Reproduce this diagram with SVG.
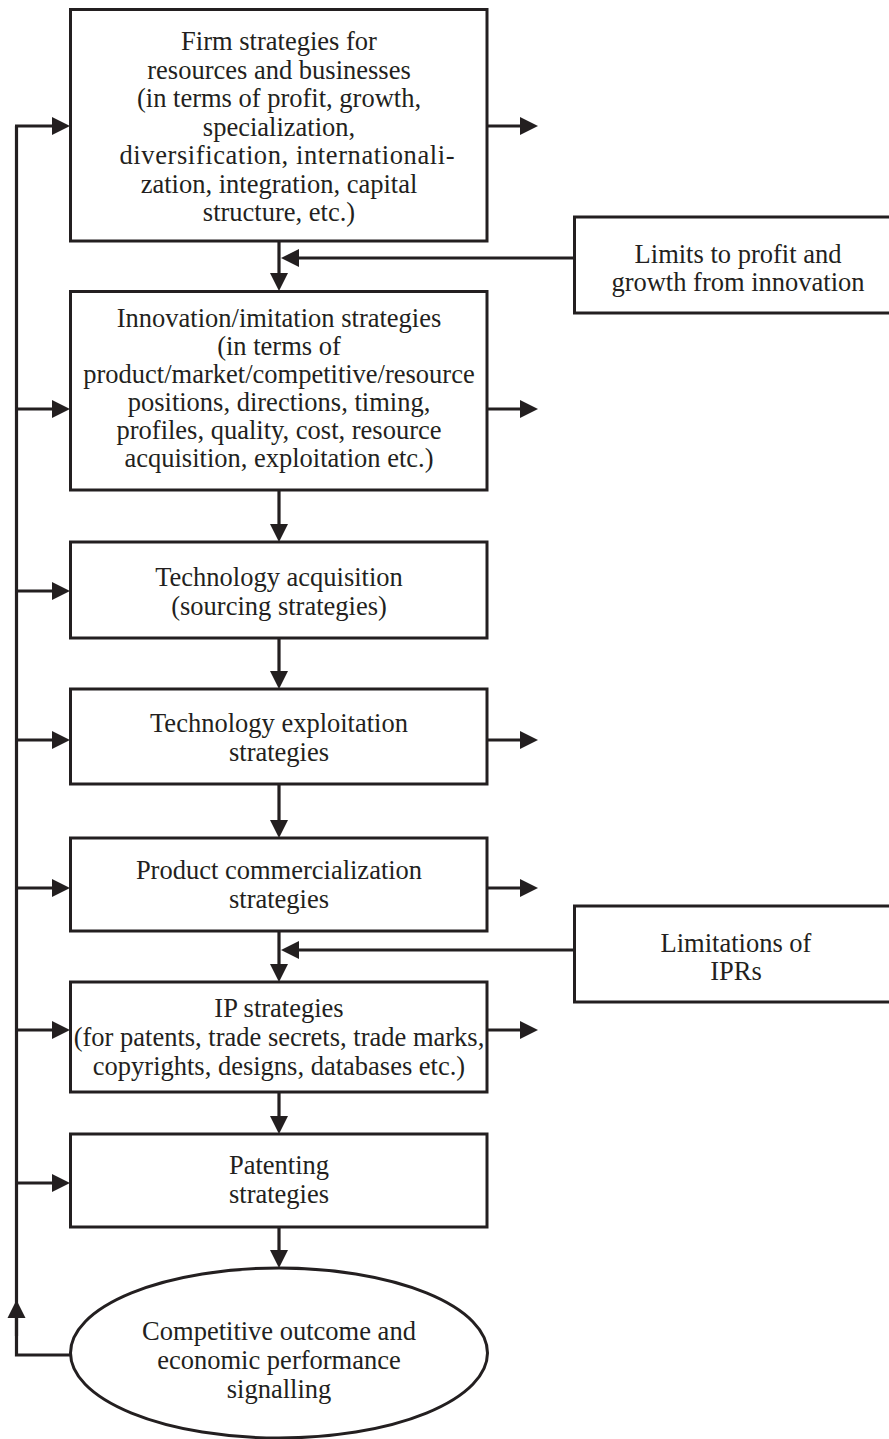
<svg xmlns="http://www.w3.org/2000/svg" width="889" height="1439" viewBox="0 0 889 1439">
<style>
.box{fill:#fff;stroke:#231f20;stroke-width:3}
.t{font-family:"Liberation Serif","Times New Roman",serif;font-size:26.5px;fill:#231f20;text-anchor:middle}
.c{fill:none;stroke:#231f20;stroke-width:3.2}
</style>
<defs>
<marker id="ah" markerUnits="userSpaceOnUse" markerWidth="20" markerHeight="20" viewBox="0 -10 20 20" refX="0" refY="0" orient="auto">
<path d="M0,-9 L18,0 L0,9 z" fill="#231f20"/>
</marker>
</defs>
<rect width="889" height="1439" fill="#fff"/>
<g id="connectors">
<path class="c" d="M16.5,126 V1355 H70"/>
<path class="c" d="M16.5,1336 V1318" marker-end="url(#ah)"/>
<path class="c" d="M15,126 H52" marker-end="url(#ah)"/>
<path class="c" d="M15,409 H52" marker-end="url(#ah)"/>
<path class="c" d="M15,591 H52" marker-end="url(#ah)"/>
<path class="c" d="M15,740 H52" marker-end="url(#ah)"/>
<path class="c" d="M15,888 H52" marker-end="url(#ah)"/>
<path class="c" d="M15,1030 H52" marker-end="url(#ah)"/>
<path class="c" d="M15,1183 H52" marker-end="url(#ah)"/>
<path class="c" d="M487,126 H520" marker-end="url(#ah)"/>
<path class="c" d="M487,409 H520" marker-end="url(#ah)"/>
<path class="c" d="M487,740 H520" marker-end="url(#ah)"/>
<path class="c" d="M487,888 H520" marker-end="url(#ah)"/>
<path class="c" d="M487,1030 H520" marker-end="url(#ah)"/>
<path class="c" d="M279,241 V273" marker-end="url(#ah)"/>
<path class="c" d="M279,490 V524" marker-end="url(#ah)"/>
<path class="c" d="M279,638 V671" marker-end="url(#ah)"/>
<path class="c" d="M279,784 V820" marker-end="url(#ah)"/>
<path class="c" d="M279,931 V964" marker-end="url(#ah)"/>
<path class="c" d="M279,1092 V1116" marker-end="url(#ah)"/>
<path class="c" d="M279,1227 V1250" marker-end="url(#ah)"/>
<path class="c" d="M574,258 H299" marker-end="url(#ah)"/>
<path class="c" d="M574,950 H299" marker-end="url(#ah)"/>
</g>
<g id="firm">
<rect class="box" x="70.5" y="9.5" width="416.5" height="231.5"/>
<text class="t" x="279" y="50">Firm strategies for</text>
<text class="t" x="279" y="78.5">resources and businesses</text>
<text class="t" x="279" y="107">(in terms of profit, growth,</text>
<text class="t" x="279" y="135.5">specialization,</text>
<text class="t" x="119.5" y="164" style="text-anchor:start" textLength="335" lengthAdjust="spacing">diversification, internationali-</text>
<text class="t" x="279" y="192.5">zation, integration, capital</text>
<text class="t" x="279" y="221">structure, etc.)</text>
</g>
<g id="limits">
<rect class="box" x="574.5" y="217" width="320" height="96"/>
<text class="t" x="738" y="263">Limits to profit and</text>
<text class="t" x="738" y="291">growth from innovation</text>
</g>
<g id="innovation">
<rect class="box" x="70.5" y="291.5" width="416.5" height="198.5"/>
<text class="t" x="279" y="327">Innovation/imitation strategies</text>
<text class="t" x="279" y="355">(in terms of</text>
<text class="t" x="279" y="383">product/market/competitive/resource</text>
<text class="t" x="279" y="411">positions, directions, timing,</text>
<text class="t" x="279" y="439">profiles, quality, cost, resource</text>
<text class="t" x="279" y="467">acquisition, exploitation etc.)</text>
</g>
<g id="acquisition">
<rect class="box" x="70.5" y="542" width="416.5" height="96"/>
<text class="t" x="279" y="586">Technology acquisition</text>
<text class="t" x="279" y="615">(sourcing strategies)</text>
</g>
<g id="exploitation">
<rect class="box" x="70.5" y="689" width="416.5" height="95"/>
<text class="t" x="279" y="732">Technology exploitation</text>
<text class="t" x="279" y="761">strategies</text>
</g>
<g id="commercialization">
<rect class="box" x="70.5" y="838" width="416.5" height="93"/>
<text class="t" x="279" y="879">Product commercialization</text>
<text class="t" x="279" y="908">strategies</text>
</g>
<g id="limitations">
<rect class="box" x="574.5" y="906" width="320" height="96"/>
<text class="t" x="736" y="952">Limitations of</text>
<text class="t" x="736" y="980">IPRs</text>
</g>
<g id="ip">
<rect class="box" x="70.5" y="982" width="416.5" height="110"/>
<text class="t" x="279" y="1017">IP strategies</text>
<text class="t" x="279" y="1046">(for patents, trade secrets, trade marks,</text>
<text class="t" x="279" y="1075">copyrights, designs, databases etc.)</text>
</g>
<g id="patenting">
<rect class="box" x="70.5" y="1134" width="416.5" height="93"/>
<text class="t" x="279" y="1174">Patenting</text>
<text class="t" x="279" y="1203">strategies</text>
</g>
<g id="outcome">
<ellipse class="box" cx="279" cy="1353" rx="208.5" ry="85"/>
<text class="t" x="279" y="1340">Competitive outcome and</text>
<text class="t" x="279" y="1369">economic performance</text>
<text class="t" x="279" y="1398">signalling</text>
</g>
</svg>
